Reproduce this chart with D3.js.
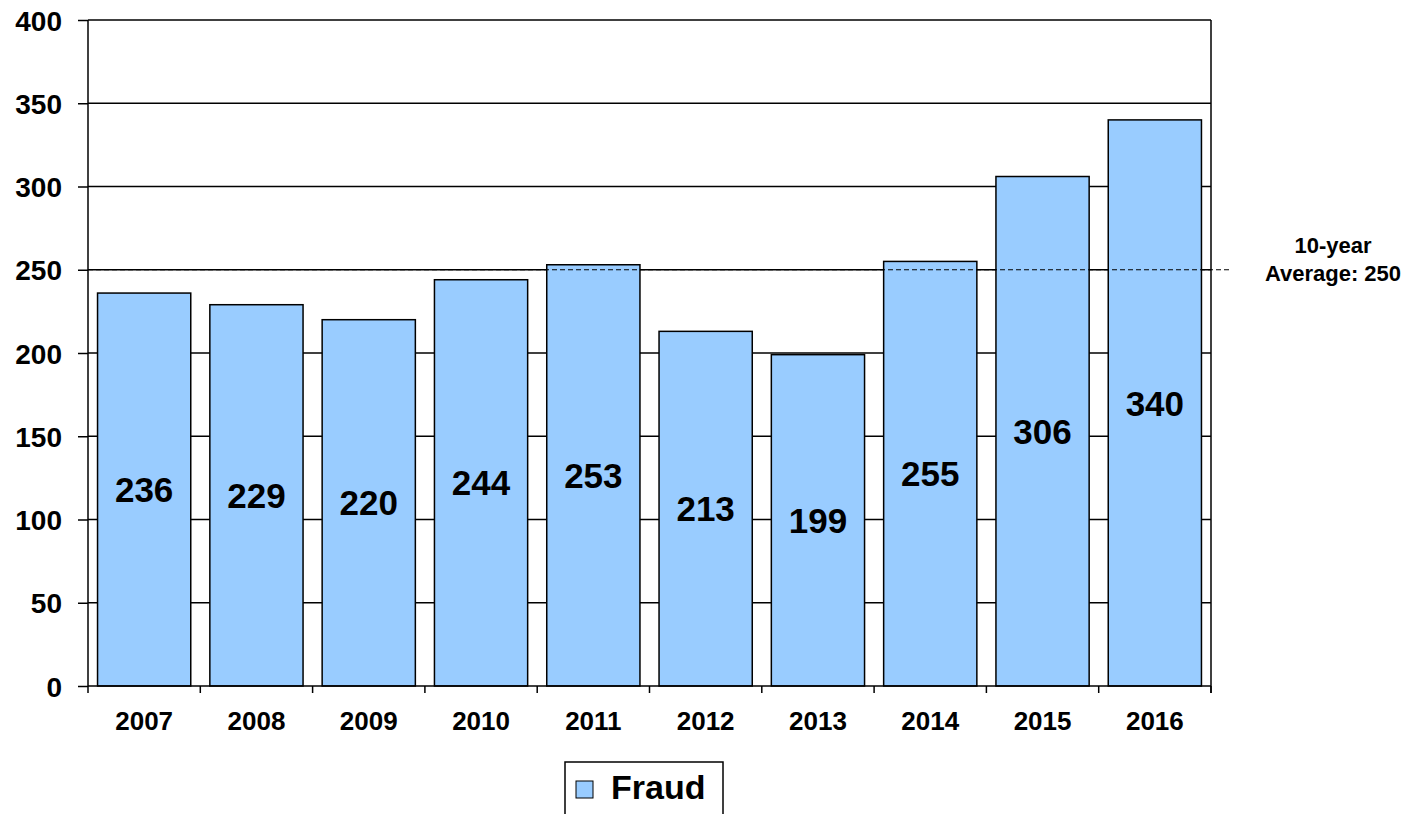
<!DOCTYPE html>
<html>
<head>
<meta charset="utf-8">
<script src="https://cdn.jsdelivr.net/npm/d3@7"></script>
<style>
  body { margin: 0; background: #fff; }
  svg text { font-family: Arial, "Liberation Sans", sans-serif; font-weight: bold; fill: #000; }
</style>
</head>
<body>
<div id="chart"></div>
<script>
const years = ["2007", "2008", "2009", "2010", "2011", "2012", "2013", "2014", "2015", "2016"]
const fraud = [236, 229, 220, 244, 253, 213, 199, 255, 306, 340]
const yTicks = [0, 50, 100, 150, 200, 250, 300, 350, 400]
const average = 250
const averageLabel = ["10-year", "Average: 250"]
const seriesName = "Fraud"

const W = 1412, H = 814
const MARGIN = {top: 20, right: 201, bottom: 128, left: 88}
const WIDTH = W - MARGIN.left - MARGIN.right
const HEIGHT = H - MARGIN.top - MARGIN.bottom
const FILL = "#99ccff"

const svg = d3.select("#chart").append("svg")
  .attr("width", W).attr("height", H)

const g = svg.append("g")
  .attr("transform", "translate(" + MARGIN.left + "," + MARGIN.top + ")")

const x = d3.scaleBand().domain(years).range([0, WIDTH]).paddingInner(0.17).paddingOuter(0.085)
const xEdges = d3.scaleLinear().domain([0, years.length]).range([0, WIDTH])
const y = d3.scaleLinear().domain([0, 400]).range([HEIGHT, 0])

// gridlines
g.append("g").selectAll("line").data(yTicks.filter(d => d > 0)).join("line")
  .attr("x1", 0).attr("x2", WIDTH)
  .attr("y1", d => y(d)).attr("y2", d => y(d))
  .attr("stroke", "#000").attr("stroke-width", 1.5)

// right border
g.append("line")
  .attr("x1", WIDTH).attr("x2", WIDTH).attr("y1", 0).attr("y2", HEIGHT + 7)
  .attr("stroke", "#000").attr("stroke-width", 1.5)

// bars
g.append("g").selectAll("rect").data(fraud).join("rect")
  .attr("x", (d, i) => x(years[i]))
  .attr("y", d => y(d))
  .attr("width", x.bandwidth())
  .attr("height", d => HEIGHT - y(d))
  .attr("fill", FILL)
  .attr("stroke", "#000").attr("stroke-width", 1.5)

// value labels
g.append("g").selectAll("text").data(fraud).join("text")
  .attr("x", (d, i) => x(years[i]) + x.bandwidth() / 2)
  .attr("y", d => y(d / 2))
  .attr("dy", "0.36em")
  .attr("text-anchor", "middle")
  .style("font-size", "35px")
  .text(d => d)

// average line
g.append("line")
  .attr("x1", 0).attr("x2", WIDTH + 19)
  .attr("y1", y(average)).attr("y2", y(average))
  .attr("stroke", "#000").attr("stroke-width", 1)
  .attr("stroke-dasharray", "5,3")

g.append("g").selectAll("text").data(averageLabel).join("text")
  .attr("x", WIDTH + 122)
  .attr("y", (d, i) => y(average) - 24 + i * 28)
  .attr("dy", "0.35em")
  .attr("text-anchor", "middle")
  .style("font-size", "22px")
  .text(d => d)

// y axis
const yAxis = g.append("g")
  .call(d3.axisLeft(y).tickValues(yTicks).tickSize(10).tickPadding(16))
yAxis.attr("font-size", null).attr("font-family", null)
yAxis.select(".domain").attr("stroke-width", 1.5).attr("d", "M0," + HEIGHT + "V0")
yAxis.selectAll(".tick line").attr("stroke-width", 1.5)
yAxis.selectAll(".tick text")
  .style("font-size", "28px")
  .attr("dy", "0.36em")

// x axis
const xAxis = g.append("g").attr("transform", "translate(0," + HEIGHT + ")")
xAxis.append("line").attr("x1", 0).attr("x2", WIDTH).attr("stroke", "#000").attr("stroke-width", 1.5)
xAxis.selectAll(".edge").data(d3.range(years.length + 1)).join("line")
  .attr("class", "edge")
  .attr("x1", d => xEdges(d)).attr("x2", d => xEdges(d))
  .attr("y1", 0).attr("y2", 7)
  .attr("stroke", "#000").attr("stroke-width", 1.5)
xAxis.selectAll("text").data(years).join("text")
  .attr("x", d => x(d) + x.bandwidth() / 2)
  .attr("y", 35)
  .attr("dy", "0.36em")
  .attr("text-anchor", "middle")
  .style("font-size", "26px")
  .text(d => d)

// legend
const legend = svg.append("g").attr("transform", "translate(565,762)")
legend.append("rect")
  .attr("x", 0).attr("y", 0).attr("width", 158).attr("height", 60)
  .attr("fill", "#fff").attr("stroke", "#000").attr("stroke-width", 1.5)
legend.append("rect")
  .attr("x", 11).attr("y", 19).attr("width", 17).attr("height", 17)
  .attr("fill", FILL).attr("stroke", "#000").attr("stroke-width", 1)
legend.append("text")
  .attr("x", 46).attr("y", 37)
  .style("font-size", "34px")
  .text(seriesName)
</script>
</body>
</html>
